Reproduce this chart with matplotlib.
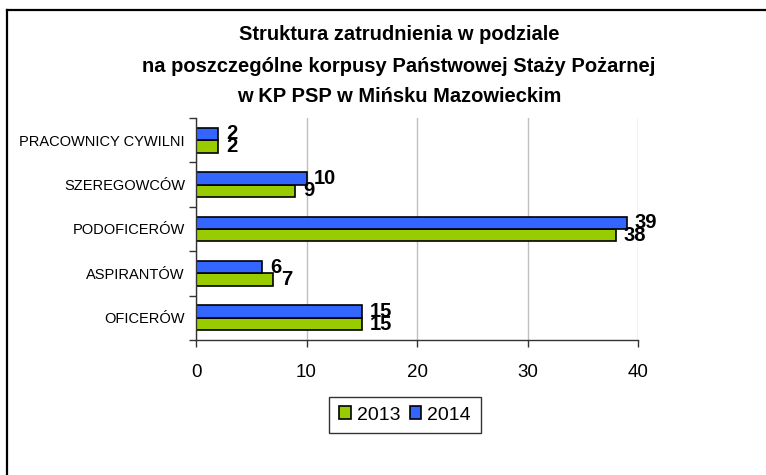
import matplotlib
matplotlib.use("Agg")
import matplotlib.pyplot as plt
import numpy as np
from matplotlib.lines import Line2D

categories = ["OFICERÓW", "ASPIRANTÓW", "PODOFICERÓW", "SZEREGOWCÓW", "PRACOWNICY CYWILNI"]
series_names = ["2013", "2014"]
values_2013 = [15, 7, 38, 9, 2]
values_2014 = [15, 6, 39, 10, 2]
x_ticks = [0, 10, 20, 30, 40]
title_lines = ["Struktura zatrudnienia w podziale",
               "na poszczególne korpusy Państwowej Staży Pożarnej",
               "w KP PSP w Mińsku Mazowieckim"]

plt.rcParams['font.family'] = ['Liberation Sans', 'DejaVu Sans']

W, H = 766, 475
fig = plt.figure(figsize=(W / 100, H / 100), dpi=100)
ax = fig.add_axes([196 / W, 1 - 340 / H, (638 - 196) / W, (340 - 118) / H])

y = np.arange(len(categories))
h = 0.28
green = "#99CC00"
blue = "#3366FF"
b13 = ax.barh(y - h / 2, values_2013, height=h, color=green, edgecolor="black", linewidth=1.2, label=series_names[0], zorder=3)
b14 = ax.barh(y + h / 2, values_2014, height=h, color=blue, edgecolor="black", linewidth=1.2, label=series_names[1], zorder=3)

for bars, vals in ((b13, values_2013), (b14, values_2014)):
    for bar, v in zip(bars, vals):
        ax.text(v + 0.7, bar.get_y() + bar.get_height() / 2, str(v), ha="left", va="center",
                fontsize=14.5, fontweight="bold", zorder=4)

ax.set_xlim(0, 40)
ax.set_ylim(-0.5, len(categories) - 0.5)
ax.set_xticks(x_ticks)
ax.set_xticklabels([str(t) for t in x_ticks], fontsize=13.5)
ax.set_yticks(y)
ax.set_yticklabels(categories, fontsize=10.5)
ax.set_yticks(np.arange(-0.5, len(categories), 1), minor=True)
ax.tick_params(axis="y", which="major", length=0, pad=8)
ax.tick_params(axis="y", which="minor", length=5, width=1, color="#333333", direction="out")
ax.tick_params(axis="x", which="major", length=5, width=1, color="#333333", direction="out", pad=12)
ax.grid(axis="x", color="#C0C0C0", linewidth=1, zorder=0)
for s in ("top", "right"):
    ax.spines[s].set_visible(False)
for s in ("left", "bottom"):
    ax.spines[s].set_color("#333333")
    ax.spines[s].set_linewidth(1)
    ax.spines[s].set_zorder(5)

leg = fig.legend(handles=[b13, b14], labels=series_names, ncol=2, loc="center",
                 bbox_to_anchor=(405 / W, 1 - 415 / H), fontsize=14, frameon=True,
                 fancybox=False, edgecolor="black", handlelength=0.6, handleheight=0.6,
                 handletextpad=0.3, columnspacing=0.5, borderpad=0.5, borderaxespad=0)
leg.get_frame().set_linewidth(1)

for i, (line, yc) in enumerate(zip(title_lines, [35, 66, 96])):
    fig.text(399 / W, 1 - yc / H, line, ha="center", va="center", fontsize=14.5, fontweight="bold")

fig.add_artist(Line2D([7 / W, 7 / W], [1 - 10 / H, 0], transform=fig.transFigure, color="black", linewidth=1.6))
fig.add_artist(Line2D([7 / W, 1], [1 - 10 / H, 1 - 10 / H], transform=fig.transFigure, color="black", linewidth=1.6))

fig.savefig("out.png", dpi=100)
